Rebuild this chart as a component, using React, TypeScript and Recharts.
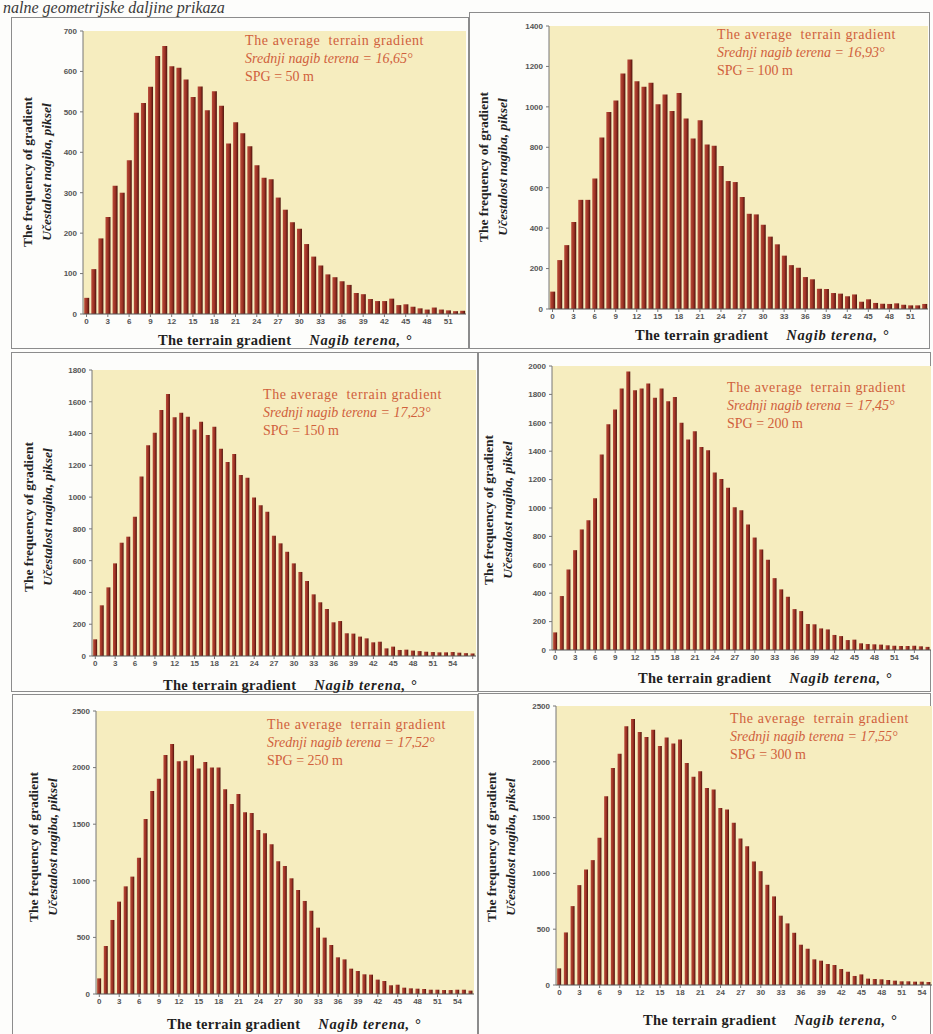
import React from "react";
import { BarChart, Bar, XAxis, YAxis, CartesianGrid } from "recharts";

// frequency of each 1° slope class (SPG = grid step)
const freq50 = [
  40, 111, 187, 240, 317, 300, 380, 498, 522, 562,
  638, 663, 613, 609, 580, 537, 563, 504, 551, 515,
  422, 474, 447, 415, 368, 337, 333, 288, 258, 227,
  211, 173, 142, 120, 98, 91, 81, 72, 52, 49,
  37, 32, 32, 38, 22, 24, 18, 14, 11, 16,
  11, 9, 7, 8,
];
const freq100 = [
  86, 242, 316, 430, 540, 540, 646, 848, 975, 1031,
  1165, 1234, 1127, 1099, 1119, 1013, 1061, 980, 1069, 942,
  843, 934, 814, 807, 707, 633, 628, 554, 471, 468,
  417, 358, 320, 264, 217, 204, 158, 147, 100, 99,
  79, 76, 63, 72, 36, 48, 30, 26, 25, 28,
  21, 18, 18, 25,
];
const freq150 = [
  105, 319, 432, 583, 713, 751, 877, 1129, 1326, 1405,
  1548, 1649, 1502, 1531, 1506, 1426, 1475, 1391, 1443, 1305,
  1221, 1271, 1139, 1122, 998, 948, 908, 757, 709, 656,
  583, 529, 472, 388, 338, 296, 212, 220, 143, 141,
  122, 111, 86, 90, 48, 59, 38, 40, 34, 31,
  27, 25, 23, 23, 25, 21, 18, 16,
];
const freq200 = [
  124, 380, 567, 703, 849, 914, 1069, 1376, 1590, 1693,
  1841, 1962, 1829, 1841, 1876, 1777, 1841, 1751, 1782, 1601,
  1482, 1540, 1430, 1407, 1250, 1205, 1142, 1006, 985, 884,
  792, 708, 635, 506, 427, 375, 288, 274, 183, 181,
  152, 145, 106, 98, 70, 73, 47, 42, 40, 38,
  33, 30, 28, 28, 30, 26, 22,
];
const freq250 = [
  138, 424, 654, 816, 951, 1037, 1204, 1546, 1793, 1902,
  2111, 2208, 2055, 2061, 2108, 1991, 2049, 2000, 2000, 1808,
  1678, 1767, 1605, 1599, 1449, 1419, 1322, 1172, 1131, 1022,
  919, 822, 736, 586, 498, 433, 324, 306, 224, 203,
  174, 171, 127, 115, 77, 82, 56, 50, 47, 44,
  38, 38, 35, 35, 38, 38, 30,
];
const freq300 = [
  149, 471, 707, 895, 1035, 1119, 1319, 1692, 1945, 2073,
  2318, 2384, 2267, 2223, 2288, 2142, 2217, 2163, 2199, 1990,
  1865, 1915, 1766, 1751, 1587, 1572, 1453, 1313, 1244, 1107,
  1020, 898, 794, 621, 552, 468, 361, 325, 230, 218,
  188, 179, 143, 119, 81, 95, 57, 54, 51, 45,
  39, 33, 33, 30, 30, 27,
];

const ticks50 = [0, 100, 200, 300, 400, 500, 600, 700];
const ticks100 = [0, 200, 400, 600, 800, 1000, 1200, 1400];
const ticks150 = [0, 200, 400, 600, 800, 1000, 1200, 1400, 1600, 1800];
const ticks200 = [0, 200, 400, 600, 800, 1000, 1200, 1400, 1600, 1800, 2000];
const ticks250 = [0, 500, 1000, 1500, 2000, 2500];

const meanSlope = ["16,65", "16,93", "17,23", "17,45", "17,52", "17,55"];
const spgLabels = ["50", "100", "150", "200", "250", "300"];
const lastLabel = [51, 51, 54, 54, 54, 54];

const serif = '"Liberation Serif", "DejaVu Serif", serif';
const sans = '"Liberation Sans", Arial, sans-serif';
const noteColor = "#d0603c";

// page layout of each panel (box frame, plot area, text anchors)
const panels = [
  { data: freq50, ticks: ticks50, box: [11, 17, 469, 349], plot: [83, 31, 466, 314], note: [245, 41], xt: [158, 340], yt: [37, 172] },
  { data: freq100, ticks: ticks100, box: [469, 12, 930, 349], plot: [549, 26, 928, 309], note: [717, 35], xt: [635, 335], yt: [493, 167] },
  { data: freq150, ticks: ticks150, box: [11, 352, 478, 692], plot: [92, 370, 476, 656], note: [263, 395], xt: [163, 685], yt: [38, 517] },
  { data: freq200, ticks: ticks200, box: [478, 352, 931, 692], plot: [552, 366, 931, 650], note: [727, 388], xt: [638, 678], yt: [498, 510] },
  { data: freq250, ticks: ticks250, box: [12, 694, 478, 1040], plot: [96, 711, 474, 994], note: [267, 725], xt: [167, 1024], yt: [43, 847] },
  { data: freq300, ticks: ticks250, box: [478, 693, 931, 1040], plot: [556, 706, 932, 985], note: [730, 719], xt: [643, 1020], yt: [501, 847] },
];

const ML = 40;
const MT = 4;
const MR = 2;
const XH = 24;

function Panel({ p, i }: { p: (typeof panels)[number]; i: number }) {
  const [bl, bt, br, bb] = p.box;
  const [pl, pt, pr, pb] = p.plot;
  const rows = p.data.map((v, k) => ({ deg: k, freq: v }));
  const yMax = p.ticks[p.ticks.length - 1];

  return (
    <>
      <div
        style={{
          position: "absolute",
          left: bl,
          top: bt,
          width: br - bl,
          height: bb - bt,
          border: "1px solid #8c8c8c",
          boxSizing: "border-box",
        }}
      />
      <div style={{ position: "absolute", left: pl - ML, top: pt - MT }}>
        <BarChart
          width={pr - pl + ML + MR}
          height={pb - pt + MT + XH}
          data={rows}
          margin={{ top: MT, right: MR, left: 0, bottom: 0 }}
          barCategoryGap="17%"
        >
          <defs>
            <linearGradient id={`bar${i}`} x1="0" y1="0" x2="1" y2="0">
              <stop offset="0%" stopColor="#b94b39" />
              <stop offset="55%" stopColor="#9c3124" />
              <stop offset="100%" stopColor="#4a130c" />
            </linearGradient>
          </defs>
          <CartesianGrid horizontal={false} vertical={false} fill="#f6edbf" />
          <XAxis
            dataKey="deg"
            interval={2}
            height={XH}
            tickSize={3}
            tickMargin={1}
            tickFormatter={(v: number) => (v > lastLabel[i] ? "" : String(v))}
            tick={{ fontSize: 8, fontFamily: sans, fontWeight: 700, fill: "#555" }}
            axisLine={{ stroke: "#555" }}
            tickLine={{ stroke: "#777" }}
          />
          <XAxis xAxisId="top" orientation="top" height={0} tick={false} tickLine={false} axisLine={{ stroke: "#9a9a9a" }} />
          <YAxis
            width={ML}
            domain={[0, yMax]}
            ticks={p.ticks}
            tickSize={3}
            tickMargin={3}
            tick={{ fontSize: 8, fontFamily: sans, fontWeight: 700, fill: "#555" }}
            axisLine={{ stroke: "#777" }}
            tickLine={{ stroke: "#777" }}
          />
          <YAxis yAxisId="right" orientation="right" width={0} tick={false} tickLine={false} axisLine={{ stroke: "#9a9a9a" }} />
          <Bar dataKey="freq" fill={`url(#bar${i})`} isAnimationActive={false} />
        </BarChart>
      </div>

      <div
        style={{
          position: "absolute",
          left: p.note[0],
          top: p.note[1] - 9,
          fontFamily: serif,
          fontSize: 14,
          lineHeight: "18px",
          color: noteColor,
          whiteSpace: "nowrap",
        }}
      >
        <div style={{ letterSpacing: 0.6 }}>The average&nbsp; terrain gradient</div>
        <div style={{ fontStyle: "italic" }}>Srednji nagib terena = {meanSlope[i]}°</div>
        <div>SPG = {spgLabels[i]} m</div>
      </div>

      <div
        style={{
          position: "absolute",
          left: p.xt[0],
          top: p.xt[1] - 9,
          fontFamily: serif,
          fontSize: 14.5,
          lineHeight: "18px",
          fontWeight: 700,
          color: "#1e1e1e",
          whiteSpace: "nowrap",
          letterSpacing: 0.3,
        }}
      >
        The terrain gradient
        <span style={{ fontStyle: "italic", marginLeft: 18, letterSpacing: 0.8 }}>Nagib terena, °</span>
      </div>

      <div
        style={{
          position: "absolute",
          left: p.yt[0],
          top: p.yt[1],
          transform: "translate(-50%, -50%) rotate(-90deg)",
          fontFamily: serif,
          fontSize: 13.5,
          lineHeight: "19px",
          color: "#222",
          whiteSpace: "nowrap",
          textAlign: "center",
        }}
      >
        <div style={{ fontWeight: 700 }}>The frequency of gradient</div>
        <div style={{ fontStyle: "italic", fontWeight: 700 }}>Učestalost nagiba, piksel</div>
      </div>
    </>
  );
}

export default function App() {
  return (
    <div
      style={{
        position: "absolute",
        left: 0,
        top: 0,
        width: 933,
        height: 1034,
        overflow: "hidden",
        background: "#fdfdfb",
      }}
    >
      <div
        style={{
          position: "absolute",
          left: 3,
          top: 0,
          fontFamily: serif,
          fontStyle: "italic",
          fontSize: 16,
          lineHeight: "16px",
          color: "#3a3a3a",
          whiteSpace: "nowrap",
        }}
      >
        nalne geometrijske daljine prikaza
      </div>
      {panels.map((p, i) => (
        <Panel key={i} p={p} i={i} />
      ))}
    </div>
  );
}
